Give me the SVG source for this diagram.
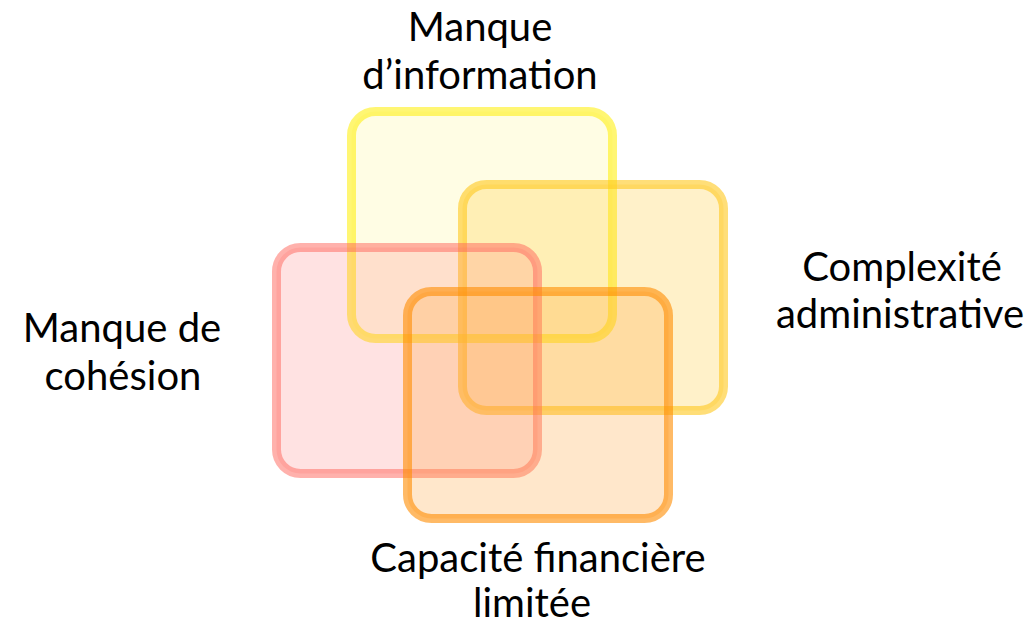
<svg xmlns="http://www.w3.org/2000/svg" width="1030" height="626" viewBox="0 0 1030 626">
<style>
.box{stroke-width:9}
.lbl{font-family:Lato,"Liberation Sans",sans-serif;font-size:40px;fill:#000;text-anchor:middle}
</style>
<rect width="1030" height="626" fill="#fff"/>
<g id="info">
<rect class="box" x="351.5" y="111.5" width="261" height="227" rx="24" fill="rgba(255,240,48,0.13)" stroke="rgba(255,238,0,0.55)"/>
</g>
<g id="complexite">
<rect class="box" x="462.5" y="184.5" width="261" height="226" rx="24" fill="rgba(255,200,40,0.25)" stroke="rgba(255,200,30,0.6)"/>
</g>
<g id="cohesion">
<rect class="box" x="276.5" y="247.5" width="261" height="226" rx="24" fill="rgba(255,112,112,0.2)" stroke="rgba(255,100,90,0.5)"/>
</g>
<g id="capacite">
<rect class="box" x="407.5" y="291.5" width="261" height="227" rx="24" fill="rgba(255,160,48,0.25)" stroke="rgba(255,140,0,0.6)"/>
</g>
<g id="labels">
<text class="lbl" x="480" y="41">Manque</text>
<text class="lbl" x="480" y="89">d’information</text>
<text class="lbl" x="902" y="281">Complexité</text>
<text class="lbl" x="900" y="328">administrative</text>
<text class="lbl" x="122" y="342">Manque de</text>
<text class="lbl" x="123" y="390">cohésion</text>
<text class="lbl" x="538" y="572">Capacité financière</text>
<text class="lbl" x="532" y="617">limitée</text>
</g>
</svg>
